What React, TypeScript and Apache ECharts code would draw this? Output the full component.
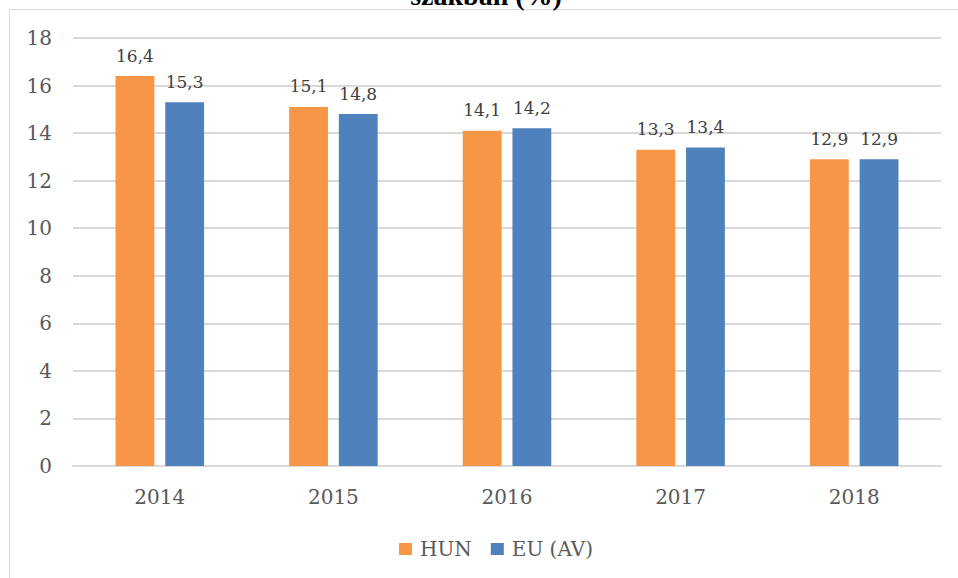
import React, { useEffect, useRef } from "react";
import * as echarts from "echarts";

const categories = ["2014", "2015", "2016", "2017", "2018"];
const hunValues = [16.4, 15.1, 14.1, 13.3, 12.9];
const euValues = [15.3, 14.8, 14.2, 13.4, 12.9];
const seriesNames = ["HUN", "EU (AV)"];
const titleText = "szakban (%)";

const FONT = '"DejaVu Serif", serif';

export default function App() {
  const ref = useRef<HTMLDivElement>(null);
  useEffect(() => {
    if (!ref.current) return;
    const chart = echarts.init(ref.current, undefined, { renderer: "svg" });
    const labelFmt = (p: any) => String(p.value).replace(".", ",");
    chart.setOption({
      animation: false,
      backgroundColor: "#ffffff",
      graphic: [
        {
          type: "rect",
          shape: { x: 9.5, y: 9.5, width: 980, height: 600 },
          style: { fill: "none", stroke: "#d9d9d9", lineWidth: 1 },
          silent: true,
        },
        {
          type: "text",
          x: 486,
          y: -5,
          style: {
            text: titleText,
            fontFamily: '"Liberation Serif", serif',
            fontWeight: "bold",
            fontSize: 28,
            fill: "#000000",
            align: "center",
            verticalAlign: "middle",
          },
        },
      ],
      grid: { left: 73, right: 17, top: 38, bottom: 112, containLabel: false },
      legend: {
        left: 394,
        top: 534,
        itemWidth: 13,
        itemHeight: 12,
        itemGap: 19,
        icon: "rect",
        textStyle: { fontFamily: FONT, fontSize: 20, color: "#595959", padding: [0, 0, 0, 3] },
        data: seriesNames,
      },
      xAxis: {
        type: "category",
        data: categories,
        axisLine: { lineStyle: { color: "#d9d9d9", width: 2 } },
        axisTick: { show: false },
        axisLabel: { fontFamily: FONT, fontSize: 20, color: "#595959", margin: 21 },
      },
      yAxis: {
        type: "value",
        min: 0,
        max: 18,
        interval: 2,
        axisLine: { show: false },
        axisTick: { show: false },
        splitLine: { lineStyle: { color: "#d9d9d9", width: 2 } },
        axisLabel: { fontFamily: FONT, fontSize: 20, color: "#595959", margin: 21 },
      },
      series: [
        {
          name: seriesNames[0],
          type: "bar",
          data: hunValues,
          barGap: "28%",
          barCategoryGap: "49%",
          itemStyle: { color: "#F79646" },
          label: {
            show: true,
            position: "top",
            distance: 12,
            fontFamily: FONT,
            fontSize: 17,
            color: "#404040",
            formatter: labelFmt,
          },
        },
        {
          name: seriesNames[1],
          type: "bar",
          data: euValues,
          barGap: "28%",
          barCategoryGap: "49%",
          itemStyle: { color: "#4F81BD" },
          label: {
            show: true,
            position: "top",
            distance: 12,
            fontFamily: FONT,
            fontSize: 17,
            color: "#404040",
            formatter: labelFmt,
          },
        },
      ],
    });
    return () => chart.dispose();
  }, []);
  return (
    <div
      ref={ref}
      style={{ position: "fixed", left: 0, top: 0, width: 958, height: 578 }}
    />
  );
}
